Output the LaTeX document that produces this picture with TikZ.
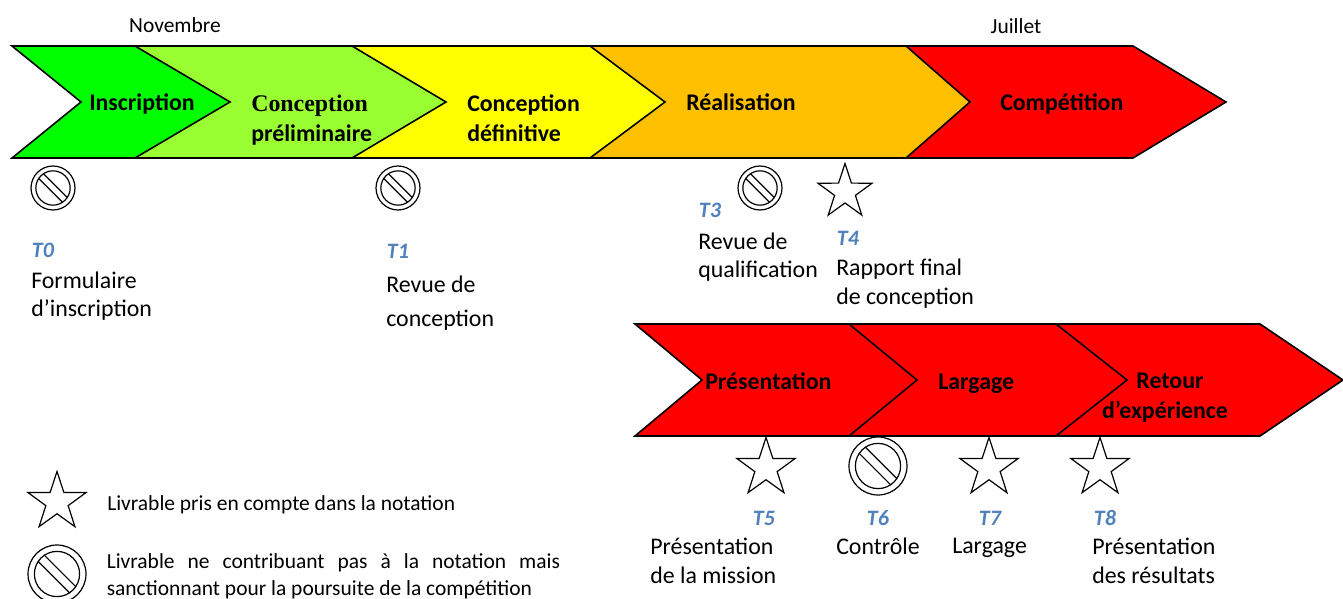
\documentclass[tikz,border=0pt]{standalone}
\usepackage{fontspec}
\setmainfont{Carlito}
\newfontfamily\timesbf{Liberation Serif}
\usetikzlibrary{shapes.geometric}
\definecolor{cgreen}{HTML}{00FF00}
\definecolor{clime}{HTML}{99FF33}
\definecolor{cyellow}{HTML}{FFFF00}
\definecolor{corange}{HTML}{FFC000}
\definecolor{cred}{HTML}{FF0000}
\definecolor{cblue}{HTML}{4F81BD}
\tikzset{
  chev/.style={draw=black,line width=1.2pt,line join=miter},
  phase/.style={font=\fontsize{17.9}{22.3}\selectfont\bfseries,align=left,inner sep=0pt},
  txt/.style={font=\fontsize{17.9}{21.5}\selectfont,align=left,inner sep=0pt},
  small/.style={font=\fontsize{16.1}{20}\selectfont,inner sep=0pt},
  tag/.style={font=\fontsize{16.5}{20}\selectfont\bfseries\itshape,text=cblue,inner sep=0pt},
  starmark/.style={star,star points=5,star point ratio=2.6,draw=black,fill=white,
    line width=.9pt,inner sep=0pt,minimum size=#1},
  stopsign/.pic={
    \draw[line width=.9pt,fill=white] (0,0) circle [radius=1];
    \draw[line width=.9pt] (0,0) circle [radius=.78];
    \draw[line width=.9pt,rotate=-45] (-.77,-.15) -- (.77,-.15);
    \draw[line width=.9pt,rotate=-45] (-.77,.15) -- (.77,.15);
  }
}
\begin{document}
\begin{tikzpicture}[x=.75pt,y=-.75pt]
\useasboundingbox (0,0) rectangle (1343,599);

% first row, right to left so that each tip lies on the next phase
\draw[chev,fill=cred]    (906,46) -- (1133,46) -- (1226,102) -- (1133,158) -- (906,158) -- cycle;
\draw[chev,fill=corange] (590,46) -- (906,46) -- (970,102) -- (906,158) -- (590,158) -- cycle;
\draw[chev,fill=cyellow] (352,46) -- (590,46) -- (665,102) -- (590,158) -- (352,158) -- cycle;
\draw[chev,fill=clime]   (135,46) -- (352,46) -- (446,102) -- (352,158) -- (135,158) -- cycle;
\draw[chev,fill=cgreen]  (12,46) -- (135,46) -- (230,102) -- (135,158) -- (12,158) -- (81,102) -- cycle;

% second row
\draw[chev,fill=cred] (1056,324) -- (1260,324) -- (1343,380) -- (1260,436) -- (1056,436) -- cycle;
\draw[chev,fill=cred] (849,324) -- (1056,324) -- (1127,380) -- (1056,436) -- (849,436) -- cycle;
\draw[chev,fill=cred] (635,324) -- (849,324) -- (917,380) -- (849,436) -- (635,436) -- (702,380) -- cycle;

\node[small] at (175,25) (nov) {Novembre};
\node[small] at (1016,26) (jul) {Juillet};

\node[phase,anchor=base west] at (89,111) (inscr) {Inscription};
\node[phase,anchor=west] at (251,120) (precon) {{\timesbf\fontsize{17.9}{22}\selectfont Conception}\\préliminaire};
\node[phase,anchor=west] at (467,118) (defcon) {Conception\\définitive};
\node[phase,anchor=base west] at (686,111) (real) {Réalisation};
\node[phase,anchor=base west] at (1000,111) (comp) {Compétition};
\node[phase,anchor=base west] at (705,389) (pres) {Présentation};
\node[phase,anchor=base west] at (938,389) (larg) {Largage};
\node[phase,align=center] at (1165,397.5) (retour) {\hspace*{7.5pt}Retour\\d’expérience};

\pic[scale=22] (s0) at (53,188) {stopsign};
\pic[scale=22] (s1) at (398,188) {stopsign};
\pic[scale=22] (s3) at (760,188) {stopsign};
\pic[scale=29] (s6) at (878,466) {stopsign};
\pic[scale=29] (s9) at (57,574) {stopsign};

\node[starmark=57pt*.75] at (845,192) (st4) {};
\node[starmark=61pt*.75] at (766,468) (st5) {};
\node[starmark=61pt*.75] at (989,468) (st7) {};
\node[starmark=61pt*.75] at (1100,468) (st8) {};
\node[starmark=61pt*.75] at (57,502) (st9) {};

\node[tag] at (43,250) (t0) {T0};
\node[txt,anchor=west] at (31,296) (d0) {Formulaire\\d’inscription};
\node[tag] at (398,251) (t1) {T1};
\node[txt,anchor=west] at (386,303) (d1) {Revue de\\[4.5pt]conception};
\node[tag] at (710,210) (t3) {T3};
\node[txt,anchor=west] at (698,257) (d3) {Revue de\\qualification};
\node[tag] at (848,238) (t4) {T4};
\node[txt,anchor=west] at (836,283.5) (d4) {Rapport final\\de conception};
\node[tag] at (764,518) (t5) {T5};
\node[txt,anchor=west] at (650,561) (d5) {Présentation\\de la mission};
\node[tag] at (878,518) (t6) {T6};
\node[txt,anchor=base west] at (836,554) (d6) {Contrôle};
\node[tag] at (990,518) (t7) {T7};
\node[txt,anchor=base west] at (952,553) (d7) {Largage};
\node[tag] at (1105,518) (t8) {T8};
\node[txt,anchor=west] at (1092,561) (d8) {Présentation\\des résultats};

\node[small,anchor=west] at (107,504.5) (leg1) {Livrable pris en compte dans la notation};
\node[small,anchor=west,text width=340pt,align=justify] at (106.5,576) (leg2)
  {Livrable ne contribuant pas à la notation mais\linebreak sanctionnant pour la poursuite de la compétition};
\end{tikzpicture}
\end{document}
